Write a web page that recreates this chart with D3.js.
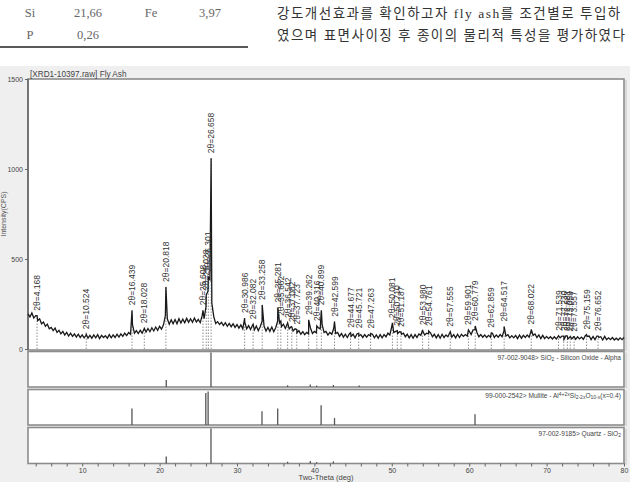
<!DOCTYPE html>
<html>
<head>
<meta charset="utf-8">
<script src="https://cdn.jsdelivr.net/npm/d3@7"></script>
<style>
  body { margin: 0; background: #fff; overflow: hidden; }
  svg { display: block; }
</style>
</head>
<body>
<div id="chart"></div>
<script>
// XRD scan of fly ash, counts read every 0.25 deg from 3 to 80 deg
const scanStart = 3;
const scanStep = 0.25;
const scanCounts = [
  195, 178, 200, 172,  185, 158, 168, 140,  150, 126, 138, 112,  120, 102, 116, 92,
  104, 84, 98, 78,  92, 72, 88, 70,  84, 66, 82, 64,  78, 62, 76, 60,
  76, 60, 78, 62,  80, 58, 76, 64,  74, 60, 80, 62,  78, 64, 82, 66,
  84, 70, 88, 74,  92, 82, 135, 88,  102, 86, 104, 88,  112, 94, 114, 96,
  118, 100, 122, 104,  126, 110, 134, 185,  168, 138, 162, 140,  164, 140, 168, 144,
  166, 146, 170, 148,  168, 148, 172, 150,  164, 146, 185, 168,  235, 320, 385, 255,
  180, 142, 152, 136,  148, 130, 146, 126,  142, 124, 140, 120,  136, 116, 134, 112,
  150, 112, 130, 108,  132, 106, 128, 102,  124, 155, 126, 100,  120, 98, 122, 96,
  118, 155, 145, 124,  138, 114, 140, 112,  124, 100, 112, 90,  102, 82, 96, 80,
  92, 84, 115, 86,  98, 90, 118, 112,  135, 92, 98, 78,  92, 82, 115, 86,
  92, 70, 86, 66,  82, 64, 84, 70,  82, 62, 84, 72,  80, 64, 80, 66,
  80, 72, 82, 62,  78, 60, 80, 62,  80, 68, 88, 78,  125, 92, 98, 86,
  96, 82, 88, 68,  82, 62, 80, 60,  80, 64, 84, 76,  100, 78, 88, 84,
  90, 68, 82, 62,  80, 60, 82, 64,  78, 68, 92, 66,  80, 62, 82, 64,
  82, 70, 80, 72,  100, 80, 106, 108,  92, 68, 80, 66,  78, 64, 76, 66,
  88, 64, 78, 66,  80, 68, 102, 72,  80, 62, 74, 62,  76, 58, 78, 60,
  76, 64, 78, 66,  102, 76, 84, 64,  78, 58, 76, 58,  70, 58, 68, 56,
  68, 56, 70, 62,  72, 54, 74, 56,  66, 56, 68, 54,  68, 56, 66, 54,
  74, 70, 72, 52,  70, 52, 72, 64,  68, 50, 70, 52,  62, 52, 64, 50,
  60, 50, 62, 52,  64
];

// identified peaks: position (2-theta) and top intensity
const peakPos = [4.168, 10.524, 16.439, 18.028, 20.818, 25.608, 26.028, 26.301, 26.658,
  30.986, 32.082, 33.258, 35.281, 35.662, 36.542, 37.082, 37.723, 39.262, 40.316, 40.899,
  42.599, 44.677, 45.721, 47.263, 50.081, 50.710, 51.187, 53.980, 54.761, 57.555, 59.901,
  60.779, 62.859, 64.517, 68.022, 71.539, 72.230, 72.681, 73.059, 73.557, 75.159, 76.652];
const peakTop = [185, 82, 215, 115, 345, 215, 300, 400, 1060,
  172, 138, 245, 230, 155, 145, 122, 108, 162, 128, 215,
  152, 90, 88, 86, 145, 102, 95, 106, 100, 96, 106,
  128, 90, 125, 108, 74, 72, 72, 70, 68, 80, 72];

// reference patterns (position, relative height)
const sio2Pos = [20.86, 26.64, 36.54, 39.47, 40.29, 42.45, 45.79];
const sio2Rel = [0.2, 1.0, 0.05, 0.07, 0.04, 0.06, 0.04];
const mulPos = [16.43, 25.97, 26.27, 33.23, 35.26, 40.87, 42.6, 60.75];
const mulRel = [0.48, 0.93, 0.97, 0.4, 0.48, 0.57, 0.2, 0.31];
const qtzPos = [20.86, 26.64, 36.54, 39.47, 40.29, 42.45];
const qtzRel = [0.2, 1.0, 0.05, 0.07, 0.04, 0.06];

const yTicks = [0, 500, 1000, 1500];
const xLabelTicks = [10, 20, 30, 40, 50, 60, 70, 80];

const W = 630, H = 482;
const svg = d3.select("#chart").append("svg")
    .attr("width", W)
    .attr("height", H);

// ---- top part of the page (table + paragraph) ----
const serif = "'Liberation Serif', 'Noto Sans CJK KR', serif";
const tableRows = [["Si", "21,66", "Fe", "3,97"], ["P", "0,26", "", ""]];
const colX = [30, 88, 151, 210];
tableRows.forEach((row, i) => {
    row.forEach((t, j) => {
        svg.append("text")
            .attr("x", colX[j]).attr("y", 17 + i * 22)
            .attr("text-anchor", "middle")
            .attr("font-family", serif).attr("font-size", 12.5)
            .attr("fill", "#666").text(t);
    });
});
svg.append("line").attr("x1", 0).attr("x2", 248).attr("y1", 47).attr("y2", 47)
    .attr("stroke", "#222").attr("stroke-width", 1.5);

const paraLines = ["강도개선효과를 확인하고자 fly ash를 조건별로 투입하", "였으며 표면사이징 후 종이의 물리적 특성을 평가하였다"];
paraLines.forEach((t, i) => {
    svg.append("text")
        .attr("x", 277).attr("y", 18 + i * 22)
        .attr("font-family", serif).attr("font-size", 13.5)
        .attr("letter-spacing", 1.5)
        .attr("fill", "#333").text(t);
});

// ---- chart ----
svg.append("rect").attr("x", 0).attr("y", 66).attr("width", W).attr("height", H - 66)
    .attr("fill", "#efefef");

const sans = "'Liberation Sans', Arial, sans-serif";
const left = 28, right = 624;
const x = d3.scaleLinear().domain([3, 80]).range([left, right]);
const y = d3.scaleLinear().domain([0, 1500]).range([349, 79]);

// frames
const frames = [[79, 350], [351.5, 387], [389.5, 425], [427.5, 463.5]];
frames.forEach(f => {
    svg.append("rect")
        .attr("x", left).attr("y", f[0])
        .attr("width", right - left).attr("height", f[1] - f[0])
        .attr("fill", "#fff").attr("stroke", "#8c8c8c").attr("stroke-width", 1.6);
    svg.append("line")
        .attr("x1", right + 2).attr("x2", right + 2).attr("y1", f[0] + 1).attr("y2", f[1] + 1)
        .attr("stroke", "#c8c8c8").attr("stroke-width", 1.2);
});
svg.append("line").attr("x1", left).attr("x2", left).attr("y1", 79).attr("y2", 350)
    .attr("stroke", "#666").attr("stroke-width", 1.5);

// title
svg.append("text").attr("x", 30).attr("y", 77)
    .attr("font-family", sans).attr("font-size", 8.2).attr("fill", "#444")
    .text("[XRD1-10397.raw] Fly Ash");

// y axis
const yAxis = d3.axisLeft(y).tickValues(yTicks).tickFormat(d3.format("d")).tickSize(3).tickPadding(2);
const gy = svg.append("g").attr("transform", `translate(${left},0)`).call(yAxis);
gy.select(".domain").remove();
gy.selectAll("line").attr("stroke", "#666");
gy.selectAll("text").attr("font-family", sans).attr("font-size", 7).attr("fill", "#444");

svg.append("text")
    .attr("transform", `translate(6,${(79 + 349) / 2}) rotate(-90)`)
    .attr("text-anchor", "middle")
    .attr("font-family", sans).attr("font-size", 7).attr("fill", "#555")
    .text("Intensity(CPS)");

// dotted peak markers
svg.append("g").selectAll("line")
    .data(peakPos)
    .join("line")
    .attr("x1", d => x(d)).attr("x2", d => x(d))
    .attr("y1", y(0)).attr("y2", (d, i) => y(peakTop[i]))
    .attr("stroke", "#777").attr("stroke-width", 0.8)
    .attr("stroke-dasharray", "1.5,1.5");

// scan trace
const pts = scanCounts.map((v, i) => [scanStart + i * scanStep, v])
    .concat(peakPos.map((p, i) => [p, peakTop[i]]))
    .sort((a, b) => a[0] - b[0]);
const line = d3.line().x(d => x(d[0])).y(d => y(d[1]));
svg.append("path").datum(pts)
    .attr("d", line)
    .attr("fill", "none").attr("stroke", "#1a1a1a").attr("stroke-width", 1.3);

// peak labels
svg.append("g").selectAll("text")
    .data(peakPos)
    .join("text")
    .attr("transform", (d, i) => `translate(${x(d) + 3},${y(peakTop[i]) - 5}) rotate(-90)`)
    .attr("font-family", sans).attr("font-size", 8.5).attr("fill", "#333")
    .text(d => "2θ=" + d.toFixed(3));

// reference stick panels
const panels = [
    {pos: sio2Pos, rel: sio2Rel, f: frames[1]},
    {pos: mulPos, rel: mulRel, f: frames[2]},
    {pos: qtzPos, rel: qtzRel, f: frames[3]}
];
panels.forEach(p => {
    const py = d3.scaleLinear().domain([0, 1]).range([p.f[1], p.f[0] + 1]);
    svg.append("g").selectAll("line")
        .data(p.pos)
        .join("line")
        .attr("x1", d => x(d)).attr("x2", d => x(d))
        .attr("y1", py(0)).attr("y2", (d, i) => py(p.rel[i]))
        .attr("stroke", "#555").attr("stroke-width", 1.3);
});

// panel captions
const capFont = 6.6;
svg.append("text").attr("x", 621).attr("y", frames[1][0] + 8)
    .attr("text-anchor", "end").attr("font-family", sans).attr("font-size", capFont).attr("fill", "#444")
    .call(t => {
        t.append("tspan").text("97-002-9048> SiO");
        t.append("tspan").attr("font-size", 5).attr("dy", 1.5).text("2");
        t.append("tspan").attr("dy", -1.5).text(" - Silicon Oxide - Alpha");
    });
svg.append("text").attr("x", 621).attr("y", frames[2][0] + 8)
    .attr("text-anchor", "end").attr("font-family", sans).attr("font-size", capFont).attr("fill", "#444")
    .call(t => {
        t.append("tspan").text("99-000-2542> Mullite - Al");
        t.append("tspan").attr("font-size", 5).attr("dy", -1.5).text("4+2x");
        t.append("tspan").attr("dy", 1.5).text("Si");
        t.append("tspan").attr("font-size", 5).attr("dy", 1.5).text("2-2x");
        t.append("tspan").attr("dy", -1.5).text("O");
        t.append("tspan").attr("font-size", 5).attr("dy", 1.5).text("10-x");
        t.append("tspan").attr("dy", -1.5).text("(x=0.4)");
    });
svg.append("text").attr("x", 621).attr("y", frames[3][0] + 8)
    .attr("text-anchor", "end").attr("font-family", sans).attr("font-size", capFont).attr("fill", "#444")
    .call(t => {
        t.append("tspan").text("97-002-9185> Quartz - SiO");
        t.append("tspan").attr("font-size", 5).attr("dy", 1.5).text("2");
    });

// x axis under the last panel
const xAxis = d3.axisBottom(x)
    .tickValues(d3.range(4, 81, 2))
    .tickSize(3).tickPadding(2)
    .tickFormat(d => xLabelTicks.includes(d) ? d : "");
const gx = svg.append("g").attr("transform", `translate(0,${frames[3][1]})`).call(xAxis);
gx.select(".domain").remove();
gx.selectAll("line").attr("stroke", "#666");
gx.selectAll("text").attr("font-family", sans).attr("font-size", 7).attr("fill", "#444");

svg.append("text").attr("x", 326).attr("y", 480)
    .attr("text-anchor", "middle")
    .attr("font-family", sans).attr("font-size", 7.5).attr("fill", "#444")
    .text("Two-Theta (deg)");
</script>
</body>
</html>
